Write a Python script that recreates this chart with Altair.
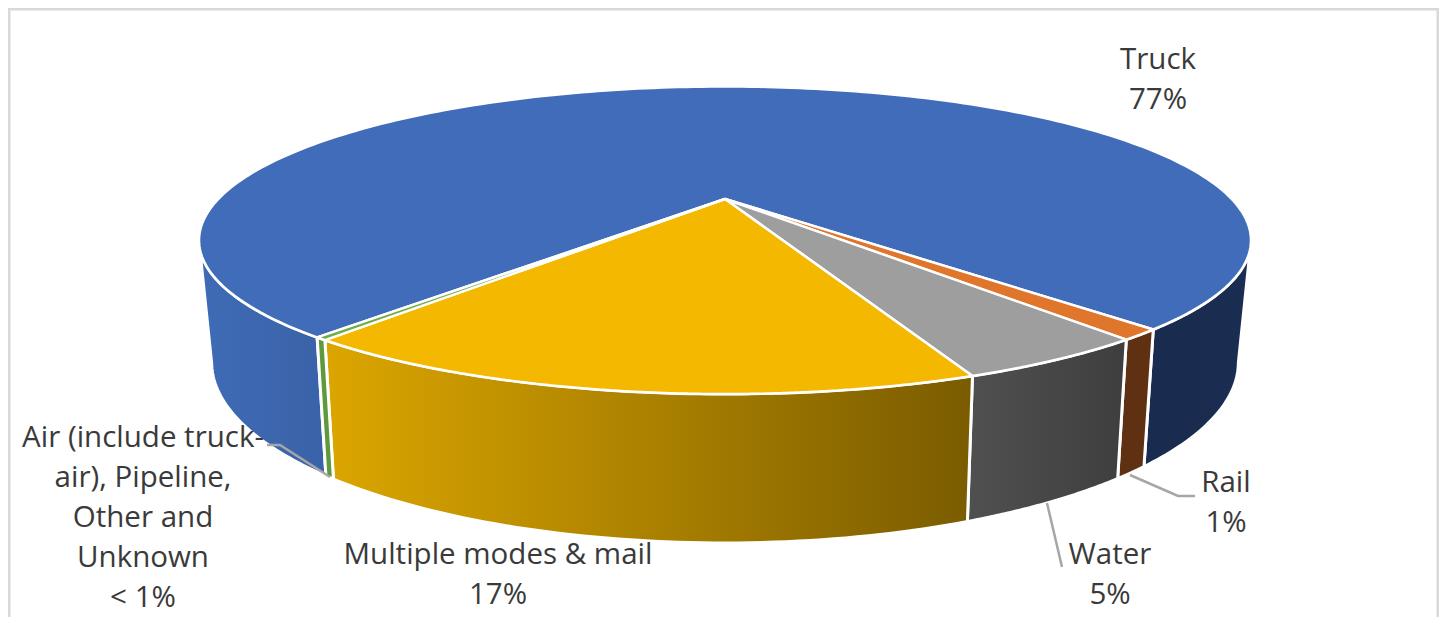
import numpy as np
import pandas as pd
import altair as alt

# --- values
categories = ["Truck", "Rail", "Water", "Multiple modes & mail", "Air and other"]
shares = [77.1, 1.1, 4.8, 16.7, 0.3]
label_lines = [
    ["Truck", "77%"],
    ["Rail", "1%"],
    ["Water", "5%"],
    ["Multiple modes & mail", "17%"],
    ["Air (include truck-", "air), Pipeline,", "Other and", "Unknown", "< 1%"],
]

# --- styles and layout
top_colors = ["#416CB9", "#E0762B", "#9E9E9E", "#F4B800", "#70AD47"]
side_left = ["#3F6BB6", "#5F3012", "#505050", "#DCA600", "#5E9A3C"]
side_right = ["#3A62A8", "#5F3012", "#3E3E3E", "#7A5C00", "#5E9A3C"]
label_pos = [(1158, 60), (1226, 483), (1110, 555), (498, 555), (143, 438)]
leaders = [
    [(330, 477), (280, 445), (267, 445)],
    [(1130, 475), (1178, 496), (1195, 496)],
    [(1047, 503), (1062, 567)],
]
START = -39.7
SILHOUETTE = 74.0
CX = 725
TOP = dict(y0=199, A=506.7, B=142.7, k=0.2683)
BOT = dict(y0=313, A=494.0, B=167.4, k=0.272)
PLOT_W, PLOT_H = 1431, 609

X = alt.X("x:Q", axis=None, scale=alt.Scale(domain=[8, 8 + PLOT_W], nice=False, zero=False))
Y = alt.Y("y:Q", axis=None, scale=alt.Scale(domain=[8 + PLOT_H, 8], nice=False, zero=False))


def project(theta, p):
    t = np.radians(theta)
    u, v = np.sin(t), np.cos(t)
    w = 1 - p["k"] * v
    return CX + p["A"] * u / w, p["y0"] + p["B"] * v / w


def poly(xs, ys, fill, stroke="white", sw=3):
    df = pd.DataFrame({"x": xs, "y": ys, "i": np.arange(len(xs))})
    return (
        alt.Chart(df)
        .mark_line(fill=fill, stroke=stroke, strokeWidth=sw, strokeJoin="round", clip=False)
        .encode(x=X, y=Y, order="i:Q")
    )


def gradient(c0, c1):
    return alt.LinearGradient(
        gradient="linear", x1=0, x2=1, y1=0, y2=0,
        stops=[alt.GradientStop(offset=0, color=c0), alt.GradientStop(offset=1, color=c1)],
    )


def side(a, b, c0, c1):
    th = np.linspace(a, b, 60)
    x1, y1 = project(th, TOP)
    x2, y2 = project(th[::-1], BOT)
    xs = np.r_[x1, x2, x1[0]]
    ys = np.r_[y1, y2, y1[0]]
    return poly(xs, ys, gradient(c0, c1))


def wedge(a, b, c):
    th = np.linspace(a, b, 240)
    x, y = project(th, TOP)
    xs = np.r_[CX, x, CX]
    ys = np.r_[TOP["y0"], y, TOP["y0"]]
    return poly(xs, ys, c, sw=2.5)


# angular extents: clockwise on the page = decreasing angle
ends = START - np.cumsum(np.array(shares) * 3.6)
starts = np.r_[START, ends[:-1]]

layers = []
# side walls
layers.append(side(starts[0], -SILHOUETTE, side_left[0], side_right[0]))
layers.append(side(SILHOUETTE, ends[0] + 360, "#192B4E", "#1A2D52"))
for i in range(1, len(shares)):
    layers.append(side(starts[i] + 360, ends[i] + 360, side_left[i], side_right[i]))
# top faces
for i in range(len(shares)):
    layers.append(wedge(starts[i], ends[i], top_colors[i]))

# leader lines
for k, pts in enumerate(leaders):
    d = pd.DataFrame({"x": [p[0] for p in pts], "y": [p[1] for p in pts], "i": range(len(pts))})
    layers.append(
        alt.Chart(d).mark_line(color="#A6A6A6", strokeWidth=2.5).encode(x=X, y=Y, order="i:Q")
    )

# labels
rows = []
for lines, (lx, ly) in zip(label_lines, label_pos):
    for j, t in enumerate(lines):
        rows.append({"x": lx, "y": ly + j * 40, "t": t})
layers.append(
    alt.Chart(pd.DataFrame(rows))
    .mark_text(font="Open Sans", fontSize=29.5, color="#3A3A3A", align="center", baseline="middle")
    .encode(x=X, y=Y, text="t:N")
)

# frame
frame_h = pd.DataFrame({"x": [8, 8 + PLOT_W], "y": [9, 9]})
frame_l = pd.DataFrame({"x": [9, 9], "y": [8, 8 + PLOT_H]})
frame_r = pd.DataFrame({"x": [8 + PLOT_W - 1, 8 + PLOT_W - 1], "y": [8, 8 + PLOT_H]})
for d in (frame_h, frame_l, frame_r):
    layers.append(alt.Chart(d).mark_line(color="#D9D9D9", strokeWidth=3).encode(x=X, y=Y))

chart = (
    alt.layer(*layers)
    .properties(width=PLOT_W, height=PLOT_H, padding=0, autosize=alt.AutoSizeParams(type="none"), background="white")
    .configure_view(stroke=None)
)
chart.save("out.html", embed_options={"renderer": "svg", "actions": False})
